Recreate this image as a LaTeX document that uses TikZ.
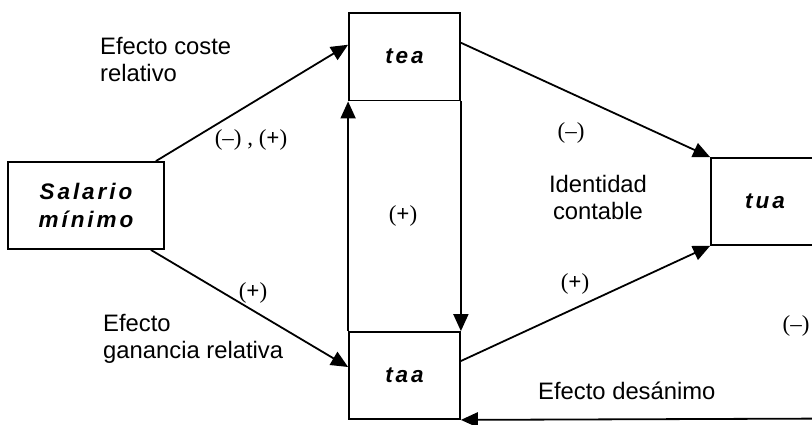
\documentclass[tikz,border=0pt]{standalone}
\usepackage{fontspec}
\setmainfont{Liberation Serif}
\setsansfont{Liberation Sans}
\newfontfamily\boxfont[LetterSpace=13,BoldItalicFont={Liberation Sans Bold Italic}]{Liberation Sans}
\usetikzlibrary{arrows.meta}
\begin{document}
\begin{tikzpicture}[x=1pt,y=-1pt,
  box/.style={draw,line width=1.8pt,inner sep=0pt,font=\boxfont\fontsize{22.5}{28}\selectfont\bfseries\itshape,align=center},
  lbl/.style={inner sep=0pt,font=\sffamily\fontsize{23.8}{27}\selectfont,align=left,anchor=base west},
  sgn/.style={inner sep=0pt,font=\rmfamily\fontsize{23}{26}\selectfont,anchor=base},
  arr/.style={line width=1.8pt,-{Triangle[length=17pt,width=15pt]}}]
\useasboundingbox (0,0) rectangle (812,424);
\node[box,minimum width=156pt,minimum height=87pt] (sal) at (86,205.5) {Salario\\mínimo};
\node[box,minimum width=111pt,minimum height=87.5pt] (tea) at (404.5,56.75) {tea};
\node[box,minimum width=111pt,minimum height=87pt] (taa) at (404.5,375.5) {taa};
\node[box,minimum width=108pt,minimum height=87pt] (tua) at (765,201.5) {tua};
\coordinate (rt) at (840,418.5);
% connectors
\draw[arr] ([xshift=-9pt]sal.north east) -- ([yshift=12pt]tea.west);
\draw[arr] ([xshift=-14pt]sal.south east) -- ([yshift=8.5pt]taa.west);
\draw[arr] (taa.north west) -- (tea.south west);
\draw[arr] (tea.south east) -- (taa.north east);
\draw[arr] ([yshift=14pt]tea.east) -- (tua.north west);
\draw[arr] ([yshift=14.5pt]taa.east) -- (tua.south west);
\draw[arr] (rt) -- (taa.south east);
% labels (base = baseline of the last line)
\node[lbl] (l1) at (100,81) {Efecto coste\\relativo};
\node[lbl] (l2) at (103,358) {Efecto\\ganancia relativa};
\node[lbl,align=center,anchor=base] (l3) at (598,219) {Identidad\\contable};
\node[lbl] (l4) at (538,399) {Efecto desánimo};
% signs
\node[sgn] (s1) at (251,145) {(–) , (\textbf{+})};
\node[sgn] (s2) at (571,138) {(–)};
\node[sgn] (s3) at (403,221) {(\textbf{+})};
\node[sgn] (s4) at (253,298) {(\textbf{+})};
\node[sgn] (s5) at (575,289) {(\textbf{+})};
\node[sgn] (s6) at (796,331) {(–)};
\end{tikzpicture}
\end{document}
